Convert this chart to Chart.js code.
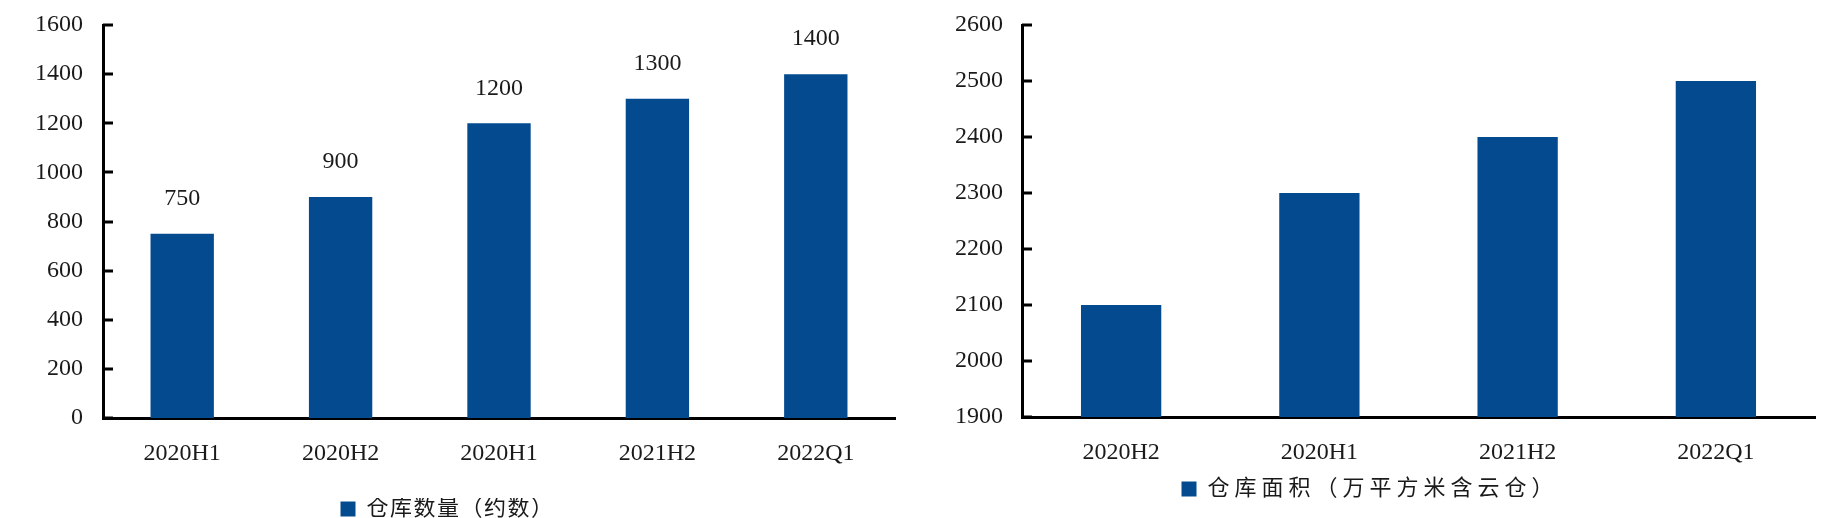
<!DOCTYPE html>
<html>
<head>
<meta charset="utf-8">
<script src="https://cdn.jsdelivr.net/npm/chart.js@4.4.1/dist/chart.umd.min.js"></script>
<style>
  body { margin: 0; background: #fff; }
  #wrap { position: relative; width: 1826px; height: 518px; overflow: hidden; }
  canvas { position: absolute; top: 0; }
  #countChart { left: 0; }
  #areaChart { left: 925px; }
</style>
</head>
<body>
<div id="wrap">
  <canvas id="countChart" width="905" height="518"></canvas>
  <canvas id="areaChart" width="901" height="518"></canvas>
</div>
<script>
var countLabels = ['2020H1', '2020H2', '2020H1', '2021H2', '2022Q1'];
var countValues = [750, 900, 1200, 1300, 1400];
var countTicks = [0, 200, 400, 600, 800, 1000, 1200, 1400, 1600];
var countName = '仓库数量（约数）';

var areaLabels = ['2020H2', '2020H1', '2021H2', '2022Q1'];
var areaValues = [2100, 2300, 2400, 2500];
var areaTicks = [1900, 2000, 2100, 2200, 2300, 2400, 2500, 2600];
var areaName = '仓库面积（万平方米含云仓）';

var barColor = '#034a8f';
var textColor = '#1a1a1a';
var serif = "'Liberation Serif', 'Times New Roman', 'Noto Sans CJK SC', serif";

// small tick marks pointing into the plot, like the original
var innerTicks = {
    id: 'innerTicks',
    afterDraw: function (chart) {
        var ctx = chart.ctx;
        var y = chart.scales.y;
        ctx.save();
        ctx.strokeStyle = '#000';
        ctx.lineWidth = 3;
        y.ticks.forEach(function (t, i) {
            var py = Math.round(y.getPixelForTick(i));
            ctx.beginPath();
            ctx.moveTo(y.right, py);
            ctx.lineTo(y.right + 10, py);
            ctx.stroke();
        });
        ctx.restore();
    }
};

// value labels over the bars
var valueLabels = {
    id: 'valueLabels',
    afterDatasetsDraw: function (chart, args, opts) {
        if (!opts.show) return;
        var ctx = chart.ctx;
        ctx.save();
        ctx.font = '24px ' + serif;
        ctx.fillStyle = textColor;
        ctx.textAlign = 'center';
        ctx.textBaseline = 'middle';
        chart.getDatasetMeta(0).data.forEach(function (bar, i) {
            ctx.fillText(chart.data.datasets[0].data[i], bar.x, bar.y - 35);
        });
        ctx.restore();
    }
};

// the legend text in the original is spread out a little
function spaceLegend(chart, px) {
    var lg = chart.legend;
    var fit = lg.fit, draw = lg.draw;
    lg.fit = function () {
        chart.ctx.letterSpacing = px;
        fit.apply(lg, arguments);
        chart.ctx.letterSpacing = '0px';
    };
    lg.draw = function () {
        chart.ctx.letterSpacing = px;
        draw.apply(lg, arguments);
        chart.ctx.letterSpacing = '0px';
    };
    chart.update();
}

function makeChart(id, labels, values, ticks, name, opt) {
    var ctx = document.getElementById(id).getContext('2d');
    var chart = new Chart(ctx, {
        type: 'bar',
        data: {
            labels: labels,
            datasets: [{
                label: name,
                data: values,
                backgroundColor: barColor,
                borderWidth: 0,
                barPercentage: opt.barPct,
                categoryPercentage: 1.0
            }]
        },
        options: {
            responsive: false,
            animation: false,
            layout: { padding: { top: 25, right: opt.padRight, bottom: opt.padBottom, left: 0 } },
            scales: {
                x: {
                    grid: { display: false, drawTicks: false },
                    border: { color: '#000', width: 3 },
                    ticks: { color: textColor, font: { family: serif, size: 24 }, padding: opt.xPad },
                    afterFit: function (s) { s.height = opt.xHeight; }
                },
                y: {
                    min: ticks[0],
                    max: ticks[ticks.length - 1],
                    afterBuildTicks: function (s) {
                        s.ticks = ticks.map(function (v) { return { value: v }; });
                    },
                    grid: { display: false, drawTicks: false },
                    border: { color: '#000', width: 3 },
                    ticks: {
                        color: textColor,
                        font: { family: serif, size: 24 },
                        padding: opt.yPad,
                        callback: function (v) { return String(v); }
                    },
                    afterFit: function (s) {
                        s.width = opt.yWidth;
                        s.paddingTop = 0;
                        s.paddingBottom = 0;
                    }
                }
            },
            plugins: {
                legend: {
                    position: 'bottom',
                    labels: {
                        boxWidth: 15,
                        boxHeight: 15,
                        padding: opt.legendPad,
                        color: textColor,
                        font: { family: serif, size: 22 }
                    }
                },
                tooltip: { enabled: false },
                valueLabels: { show: opt.showValues }
            }
        },
        plugins: [innerTicks, valueLabels]
    });
    spaceLegend(chart, opt.spacing);
    return chart;
}

makeChart('countChart', countLabels, countValues, countTicks, countName,
    { barPct: 0.4, padRight: 10, padBottom: -12, xHeight: 80, xPad: 21, legendPad: 0,
      yWidth: 103, yPad: 20, showValues: true, spacing: '1.5px' });
makeChart('areaChart', areaLabels, areaValues, areaTicks, areaName,
    { barPct: 0.405, padRight: 11, padBottom: 8, xHeight: 51, xPad: 21, legendPad: 10,
      yWidth: 97, yPad: 19, showValues: false, spacing: '5px' });
</script>
</body>
</html>
